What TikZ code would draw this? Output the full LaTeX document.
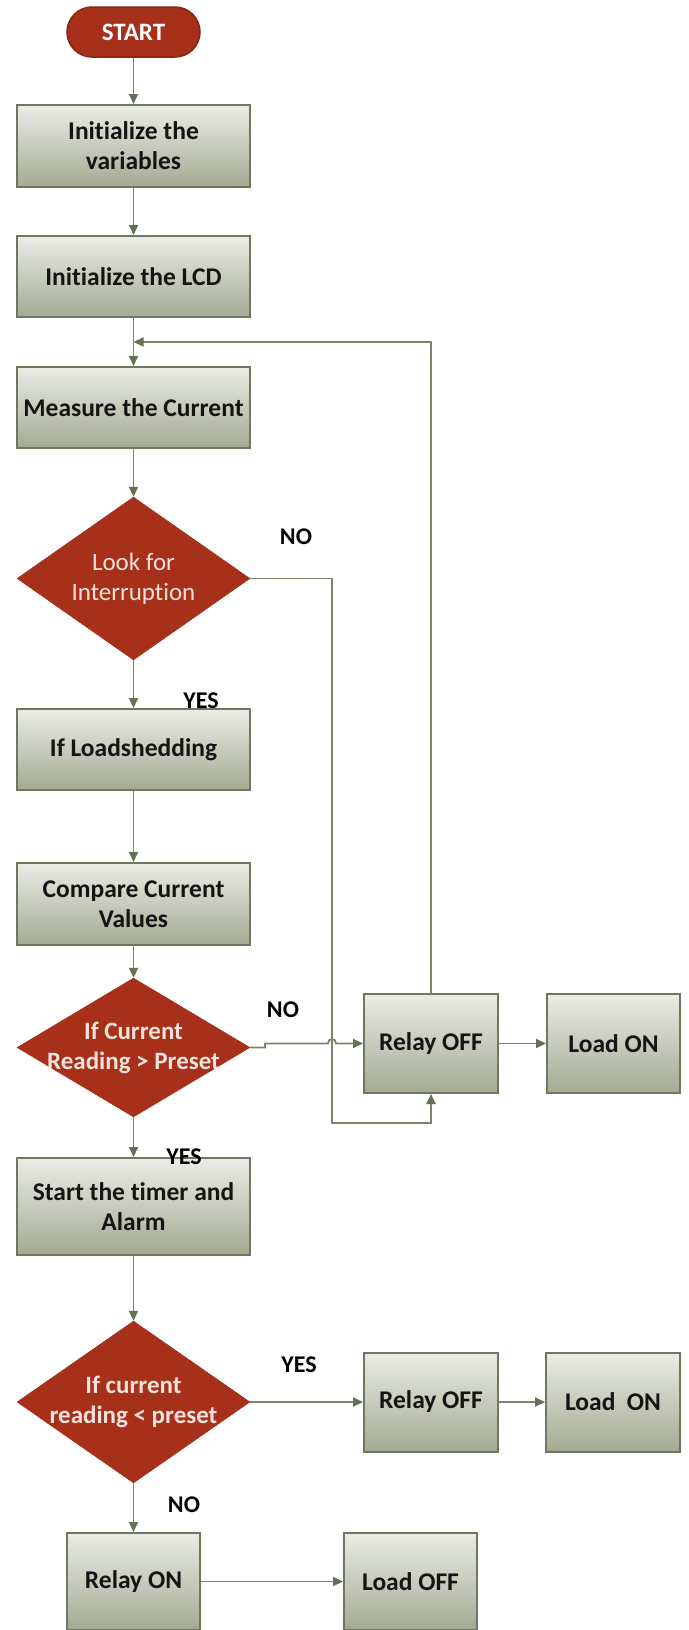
\documentclass[tikz,border=0pt]{standalone}
\usepackage{fontspec}
\setmainfont{Carlito}[Ligatures={NoCommon}]
\usetikzlibrary{arrows.meta,shapes.geometric}
\definecolor{lc}{RGB}{125,132,110}
\definecolor{ac}{RGB}{100,114,84}
\definecolor{bd}{RGB}{112,119,96}
\definecolor{btop}{RGB}{234,236,230}
\definecolor{bbot}{RGB}{164,170,146}
\definecolor{redfill}{RGB}{166,48,26}
\definecolor{redbd}{RGB}{138,36,16}
\definecolor{dtxt}{RGB}{246,226,218}
\begin{document}
\begin{tikzpicture}[x=1pt,y=-1pt,
  box/.style={draw=bd, line width=2pt, top color=btop, bottom color=bbot,
    inner sep=0pt, align=center, text=black!92,
    font=\bfseries\fontsize{25.5}{30}\selectfont},
  dia/.style={diamond, draw=redfill, fill=redfill, inner sep=0pt, minimum width=233pt},
  dtext/.style={align=center, text=dtxt, inner sep=0pt, font=\fontsize{25}{30}\selectfont},
  dtextb/.style={dtext, font=\bfseries\fontsize{25}{30}\selectfont},
  startnode/.style={draw=redbd, line width=1.5pt, fill=redfill, rounded corners=25pt,
    minimum width=133pt, minimum height=50pt, text=white, inner sep=0pt,
    font=\bfseries\fontsize{25}{30}\selectfont},
  lbl/.style={inner sep=0pt, font=\bfseries\fontsize{24}{28}\selectfont},
  arr/.style={draw=lc, line width=1.8pt, -{Triangle[length=10pt,width=9pt,color=ac]}}
]
\useasboundingbox[fill=white] (0,0) rectangle (688,1630);

\node[startnode] (S) at (133.5,32) {START};
\node[box, minimum width=233pt, minimum height=82pt] (B1) at (133.5,146) {Initialize the\\variables};
\node[box, minimum width=233pt, minimum height=81pt] (B2) at (133.5,276.5) {Initialize the LCD};
\node[box, minimum width=233pt, minimum height=81pt] (B3) at (133.5,407.5) {Measure the Current};
\node[dia, minimum height=163pt] (D1) at (133.5,578.5) {};
\node[dtext] (D1t) at (133.5,578.5) {Look for\\Interruption};
\node[box, minimum width=233pt, minimum height=81pt] (B4) at (133.5,749.5) {If Loadshedding};
\node[box, minimum width=233pt, minimum height=82pt] (B5) at (133.5,904) {Compare Current\\Values};
\node[dia, minimum height=139pt] (D2) at (133.5,1047.5) {};
\node[dtextb] (D2t) at (133.5,1047.5) {If Current\\Reading {>} Preset};
\node[box, minimum width=233pt, minimum height=97pt] (B6) at (133.5,1206.5) {Start the timer and\\Alarm};
\node[dia, minimum height=162pt] (D3) at (133.5,1402) {};
\node[dtextb] (D3t) at (133.5,1402) {If current\\reading {<} preset};

\node[box, minimum width=134pt, minimum height=99pt] (R1) at (431,1043.5) {Relay OFF};
\node[box, minimum width=133pt, minimum height=99pt] (L1) at (613.5,1043.5) {Load ON};
\node[box, minimum width=134pt, minimum height=99pt] (R2) at (431,1402) {Relay OFF};
\node[box, minimum width=134pt, minimum height=99pt] (L2) at (613,1402) {Load~ ON};
\node[box, minimum width=133pt, minimum height=97pt] (RON) at (133.5,1581.5) {Relay ON};
\node[box, minimum width=133pt, minimum height=97pt] (LOFF) at (410.5,1581.5) {Load OFF};

\coordinate (J) at (133.5,342);

\draw[arr] (S) -- (B1);
\draw[arr] (B1) -- (B2);
\draw[arr] (B2) -- (B3);
\draw[arr] (B3) -- (D1);
\draw[arr] (D1) -- (B4);
\draw[arr] (B4) -- (B5);
\draw[arr] (B5) -- (D2);
\draw[arr] (D2) -- (B6);
\draw[arr] (B6) -- (D3);
\draw[arr] (D3) -- (R2);
\draw[arr] (R2) -- (L2);
\draw[arr] (D3) -- (RON);
\draw[arr] (RON) -- (LOFF);
\draw[arr] (R1) -- (L1);
\draw[arr] (R1.north) |- (J);
\draw[arr] (D1.east) -- (332,578.5) -- (332,1123) -| (R1.south);
\draw[arr] (D2.east) -- (265,1047.5) -- (265,1043.5) -- (328,1043.5)
  .. controls (328,1037.5) and (336,1037.5) .. (336,1043.5) -- (R1.west);

\node[lbl] (no1) at (296,537) {NO};
\node[lbl] (yes1) at (201,701) {YES};
\node[lbl] (no2) at (283,1010) {NO};
\node[lbl] (yes2) at (184,1157) {YES};
\node[lbl] (yes3) at (299,1365) {YES};
\node[lbl] (no3) at (184,1505) {NO};
\end{tikzpicture}
\end{document}
